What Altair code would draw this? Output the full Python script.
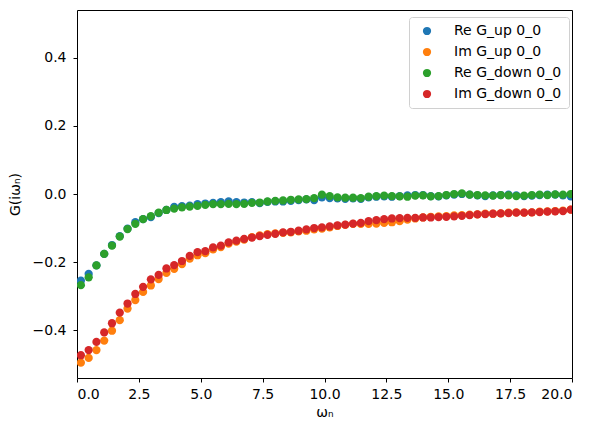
import altair as alt
import numpy as np
import pandas as pd

# Matsubara frequencies for beta = 20: w_n = (2n+1) * pi / beta, n = 0..63
beta = 20.0
n_idx = np.arange(64)
omega = (2 * n_idx + 1) * np.pi / beta

re_g_up = [
    -0.255, -0.235, -0.210, -0.176, -0.150, -0.124, -0.102, -0.083, -0.074, -0.068,
    -0.056, -0.047, -0.038, -0.036, -0.034, -0.030, -0.028, -0.026, -0.024, -0.022,
    -0.024, -0.025, -0.024, -0.027, -0.023, -0.022, -0.022, -0.020, -0.018, -0.016,
    -0.018, -0.010, -0.012, -0.013, -0.014, -0.013, -0.014, -0.010, -0.008, -0.007,
    -0.008, -0.006, -0.004, -0.003, -0.003, -0.006, -0.007, -0.004, -0.002, 0.000,
    -0.002, -0.004, -0.006, -0.004, -0.003, -0.002, -0.004, -0.006, -0.005, -0.003,
    -0.002, -0.002, -0.004, -0.007,
]
im_g_up = [
    -0.496, -0.482, -0.459, -0.431, -0.402, -0.371, -0.337, -0.312, -0.288, -0.269,
    -0.250, -0.232, -0.220, -0.206, -0.190, -0.180, -0.174, -0.163, -0.156, -0.146,
    -0.140, -0.134, -0.127, -0.122, -0.118, -0.116, -0.114, -0.113, -0.110, -0.108,
    -0.104, -0.102, -0.098, -0.094, -0.091, -0.088, -0.088, -0.088, -0.087, -0.085,
    -0.083, -0.080, -0.075, -0.072, -0.069, -0.067, -0.066, -0.065, -0.063, -0.062,
    -0.061, -0.060, -0.058, -0.058, -0.057, -0.055, -0.054, -0.055, -0.054, -0.052,
    -0.051, -0.050, -0.049, -0.046,
]
re_g_down = [
    -0.268, -0.245, -0.210, -0.176, -0.152, -0.125, -0.103, -0.088, -0.074, -0.065,
    -0.055, -0.047, -0.043, -0.039, -0.037, -0.035, -0.032, -0.030, -0.030, -0.029,
    -0.030, -0.029, -0.026, -0.025, -0.022, -0.020, -0.019, -0.017, -0.016, -0.015,
    -0.012, -0.002, -0.006, -0.010, -0.011, -0.011, -0.012, -0.008, -0.006, -0.005,
    -0.006, -0.007, -0.008, -0.005, -0.004, -0.007, -0.006, -0.003, 0.000, 0.002,
    -0.002, -0.003, -0.004, -0.005, -0.003, -0.004, -0.006, -0.005, -0.003, -0.002,
    -0.003, -0.001, -0.002, 0.000,
]
im_g_down = [
    -0.474, -0.459, -0.435, -0.407, -0.380, -0.349, -0.322, -0.294, -0.273, -0.251,
    -0.238, -0.219, -0.209, -0.197, -0.182, -0.171, -0.168, -0.157, -0.152, -0.142,
    -0.137, -0.132, -0.128, -0.124, -0.120, -0.117, -0.113, -0.111, -0.108, -0.104,
    -0.100, -0.098, -0.095, -0.092, -0.090, -0.087, -0.085, -0.080, -0.077, -0.074,
    -0.072, -0.071, -0.070, -0.070, -0.069, -0.069, -0.068, -0.067, -0.066, -0.064,
    -0.062, -0.060, -0.059, -0.058, -0.057, -0.056, -0.055, -0.055, -0.054, -0.053,
    -0.052, -0.051, -0.050, -0.046,
]

series_names = ["Re G_up 0_0", "Im G_up 0_0", "Re G_down 0_0", "Im G_down 0_0"]
series_values = [re_g_up, im_g_up, re_g_down, im_g_down]
series_colors = ["#1f77b4", "#ff7f0e", "#2ca02c", "#d62728"]

frames = []
for k, (name, vals) in enumerate(zip(series_names, series_values)):
    frames.append(pd.DataFrame({"omega": omega, "G": vals, "series": name, "layer": k}))
df = pd.concat(frames, ignore_index=True)

x_ticks = [0.0, 2.5, 5.0, 7.5, 10.0, 12.5, 15.0, 17.5, 20.0]
y_ticks = [-0.4, -0.2, 0.0, 0.2, 0.4]

font = "DejaVu Sans"
axis_style = dict(
    grid=False, domain=False, tickColor="black", tickSize=4, tickWidth=1,
    labelFont=font, labelFontSize=14, labelColor="black",
    titleFont=font, titleFontSize=14, titleFontWeight="normal", titleColor="black",
    format=".1f", labelExpr="replace(datum.label, '-', '−')",
)

points = alt.Chart(df).mark_circle(size=68, opacity=1, clip=True).encode(
    x=alt.X(
        "omega:Q",
        scale=alt.Scale(domain=[0, 20], nice=False, zero=False),
        axis=alt.Axis(title="ωₙ", values=x_ticks, labelPadding=5, titlePadding=4,
                      **axis_style),
    ),
    y=alt.Y(
        "G:Q",
        scale=alt.Scale(domain=[-0.541, 0.541], nice=False, zero=False),
        axis=alt.Axis(title="G(iωₙ)", values=y_ticks, labelPadding=7, titlePadding=10,
                      **axis_style),
    ),
    color=alt.Color(
        "series:N",
        scale=alt.Scale(domain=series_names, range=series_colors),
        legend=alt.Legend(
            title=None, orient="none", legendX=332, legendY=7,
            symbolType="circle", symbolSize=68, symbolOpacity=1,
            labelFontSize=14, labelFont=font, labelColor="black",
            rowPadding=7, padding=7, symbolOffset=4, labelOffset=20,
            strokeColor="#d0d0d0", fillColor="white", cornerRadius=3,
        ),
    ),
    order=alt.Order("layer:Q"),
)

chart = points.properties(
    width=495, height=368,
    autosize=alt.AutoSizeParams(type="none"),
    padding={"left": 77, "top": 10, "right": 25, "bottom": 55},
    background="white",
).configure_view(
    stroke="black", strokeWidth=1,
)

chart.save("out.html", embed_options={"renderer": "svg", "actions": False})
